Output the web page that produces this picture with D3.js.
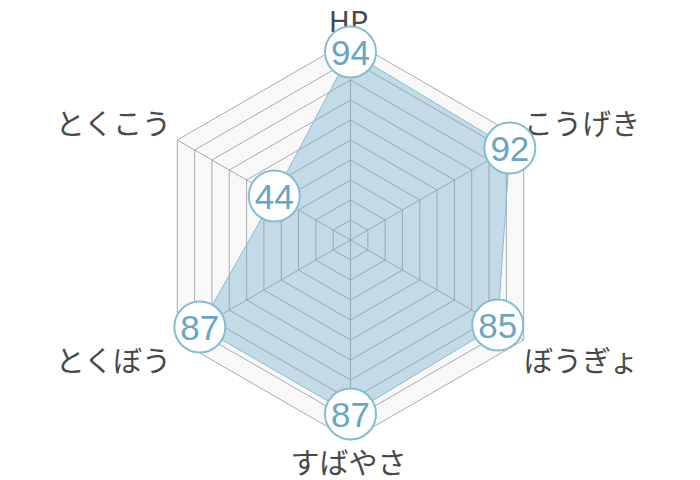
<!DOCTYPE html>
<html>
<head>
<meta charset="utf-8">
<script src="https://cdn.jsdelivr.net/npm/d3@7"></script>
<style>
  body { margin: 0; background: #fff; }
  svg { display: block; }
</style>
</head>
<body>
<div id="chart"></div>
<script>
var labels = ["HP", "こうげき", "ぼうぎょ", "すばやさ", "とくぼう", "とくこう"];
var values = [94, 92, 85, 87, 87, 44];
var ticks = [10, 20, 30, 40, 50, 60, 70, 80, 90, 100];

var width = 700, height = 480,
    cx = 350.5, cy = 240, radius = 200;

var svg = d3.select("#chart")
    .append("svg")
    .attr("width", width)
    .attr("height", height);

var g = svg.append("g")
    .attr("transform", "translate(" + cx + "," + cy + ")");

// 0..100 を半径へ
var r = d3.scaleLinear().domain([0, 100]).range([0, radius]);
var angle = d3.scaleLinear().domain([0, labels.length]).range([0, 2 * Math.PI]);

function pt(i, v) {
    var a = angle(i);
    return [r(v) * Math.sin(a), -r(v) * Math.cos(a)];
}

function ring(v) {
    return labels.map(function (d, i) { return pt(i, v); });
}

var line = d3.line().curve(d3.curveLinearClosed);

// 背景
g.append("path")
    .attr("d", line(ring(100)))
    .attr("fill", "#f8f8f8");

// グリッド
g.selectAll(".grid")
    .data(ticks)
    .enter()
    .append("path")
    .attr("class", "grid")
    .attr("d", function (d) { return line(ring(d)); })
    .attr("fill", "none")
    .attr("stroke", "#ababab")
    .attr("stroke-width", 1);

g.selectAll(".spoke")
    .data(labels)
    .enter()
    .append("line")
    .attr("class", "spoke")
    .attr("x1", 0).attr("y1", 0)
    .attr("x2", function (d, i) { return pt(i, 100)[0]; })
    .attr("y2", function (d, i) { return pt(i, 100)[1]; })
    .attr("stroke", "#ababab")
    .attr("stroke-width", 1);

// データ
g.append("path")
    .datum(values)
    .attr("d", function (d) { return line(d.map(function (v, i) { return pt(i, v); })); })
    .attr("fill", "rgba(100,170,200,0.36)")
    .attr("stroke", "#86bdd3")
    .attr("stroke-width", 1);

// 軸ラベル
var labelR = 102.5;
g.selectAll(".axisLabel")
    .data(labels)
    .enter()
    .append("text")
    .attr("class", "axisLabel")
    .attr("x", function (d, i) {
        var x = pt(i, labelR)[0];
        return x > 1 ? x - 4 : (x < -1 ? x - 2 : x - 2);
    })
    .attr("y", function (d, i) {
        var p = pt(i, labelR);
        return p[1] < -1 ? p[1] - 16 : (p[1] > 1 ? p[1] + 16 : p[1]);
    })
    .attr("dominant-baseline", "central")
    .attr("text-anchor", function (d, i) {
        var x = pt(i, labelR)[0];
        return x > 1 ? "start" : (x < -1 ? "end" : "middle");
    })
    .style("font-family", "'Noto Sans CJK JP', sans-serif")
    .style("font-size", "29px")
    .style("fill", "#484848")
    .text(function (d) { return d; });

// 値の丸
var bubble = g.selectAll(".bubble")
    .data(values)
    .enter()
    .append("g")
    .attr("class", "bubble")
    .attr("transform", function (d, i) {
        var p = pt(i, d);
        return "translate(" + p[0] + "," + p[1] + ")";
    });

bubble.append("circle")
    .attr("r", 25.5)
    .attr("fill", "#fff")
    .attr("stroke", "#86bdd3")
    .attr("stroke-width", 2);

bubble.append("text")
    .attr("text-anchor", "middle")
    .attr("dy", "0.36em")
    .style("font-family", "'Liberation Sans', Arial, sans-serif")
    .style("font-size", "35px")
    .style("fill", "#68a6c3")
    .text(function (d) { return d; });
</script>
</body>
</html>
